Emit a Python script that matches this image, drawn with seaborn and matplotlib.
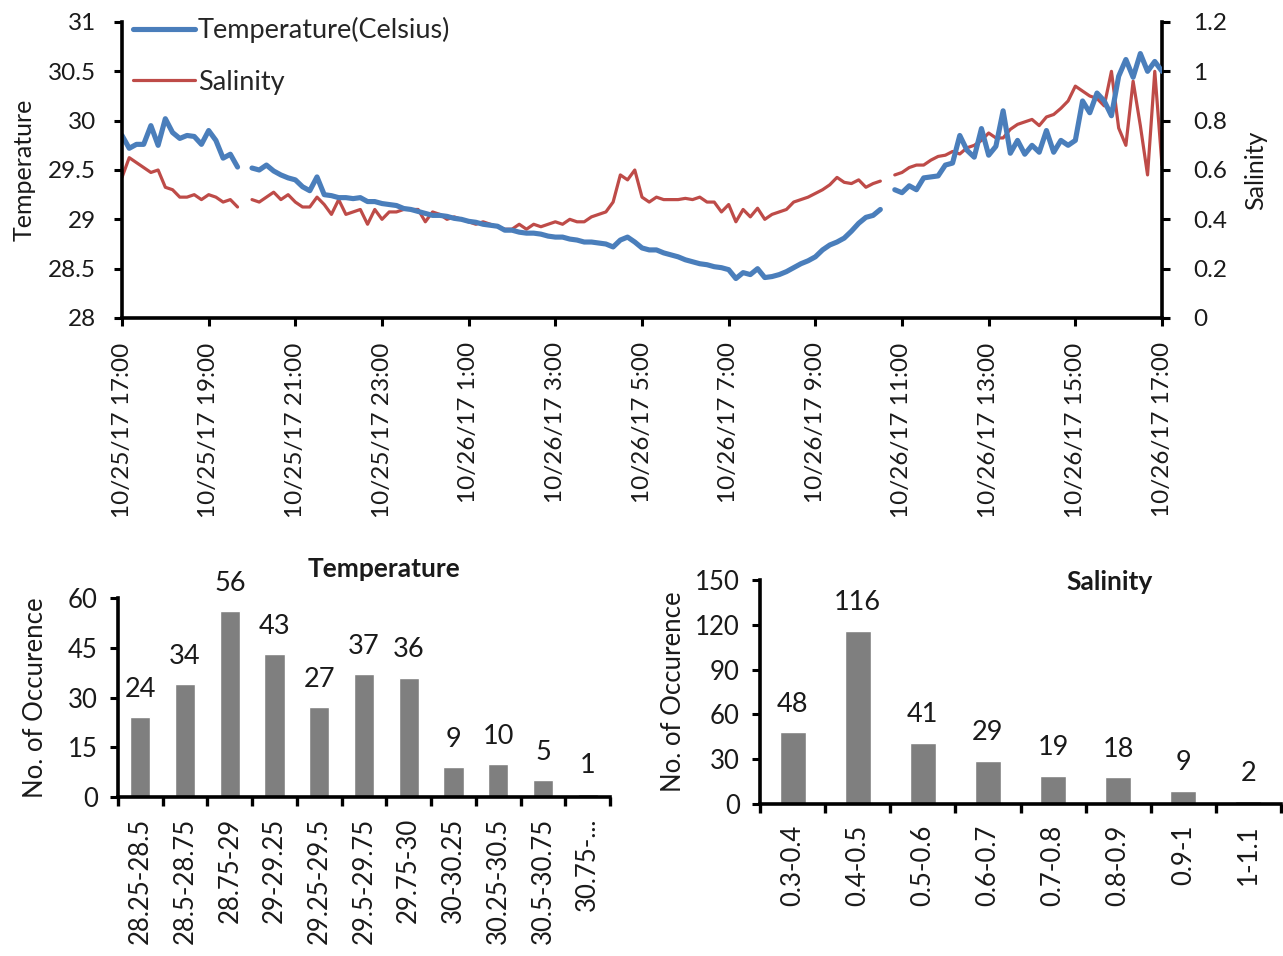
import numpy as np
import pandas as pd
import matplotlib
matplotlib.use("Agg")
import matplotlib.pyplot as plt
from matplotlib.lines import Line2D
import seaborn as sns

sns.set_theme(style="white")
plt.rcParams['font.family'] = ['Lato', 'DejaVu Sans']

nan = np.nan
# ---- time series, 10-minute steps starting 10/25/17 17:00 ----
step_minutes = 10
temp = [
    29.85, 29.72, 29.76, 29.76, 29.95, 29.75, 30.02, 29.88, 29.82, 29.85,
    29.84, 29.76, 29.90, 29.80, 29.62, 29.66, 29.53, nan, 29.52, 29.50,
    29.55, 29.49, 29.45, 29.42, 29.40, 29.33, 29.29, 29.43, 29.25, 29.24,
    29.22, 29.22, 29.21, 29.22, 29.18, 29.18, 29.16, 29.15, 29.14, 29.11,
    29.10, 29.08, 29.06, 29.04, 29.04, 29.03, 29.01, 29.00, 28.98, 28.97,
    28.95, 28.94, 28.93, 28.89, 28.89, 28.87, 28.86, 28.86, 28.85, 28.83,
    28.82, 28.82, 28.80, 28.79, 28.77, 28.77, 28.76, 28.75, 28.72, 28.79,
    28.82, 28.77, 28.71, 28.69, 28.69, 28.66, 28.64, 28.62, 28.59, 28.57,
    28.55, 28.54, 28.52, 28.51, 28.49, 28.40, 28.46, 28.44, 28.50, 28.41,
    28.42, 28.44, 28.47, 28.51, 28.55, 28.58, 28.62, 28.69, 28.74, 28.77,
    28.81, 28.88, 28.96, 29.02, 29.04, 29.10, nan, 29.30, 29.27, 29.34,
    29.30, 29.42, 29.43, 29.44, 29.55, 29.57, 29.85, 29.70, 29.63, 29.92,
    29.65, 29.74, 30.10, 29.67, 29.80, 29.66, 29.75, 29.68, 29.90, 29.68,
    29.80, 29.75, 29.80, 30.20, 30.08, 30.28, 30.20, 30.05, 30.45, 30.62,
    30.44, 30.68, 30.50, 30.60, 30.50,
]
salinity = [
    0.57, 0.65, 0.63, 0.61, 0.59, 0.60, 0.53, 0.52, 0.49, 0.49,
    0.50, 0.48, 0.50, 0.49, 0.47, 0.48, 0.45, nan, 0.48, 0.47,
    0.49, 0.51, 0.48, 0.50, 0.47, 0.45, 0.45, 0.49, 0.46, 0.42,
    0.48, 0.42, 0.43, 0.44, 0.38, 0.44, 0.40, 0.43, 0.43, 0.44,
    0.44, 0.44, 0.39, 0.43, 0.42, 0.40, 0.41, 0.40, 0.39, 0.38,
    0.39, 0.38, 0.37, 0.36, 0.36, 0.38, 0.36, 0.38, 0.37, 0.38,
    0.39, 0.38, 0.40, 0.39, 0.39, 0.41, 0.42, 0.43, 0.47, 0.58,
    0.56, 0.60, 0.49, 0.47, 0.49, 0.48, 0.48, 0.48, 0.485, 0.48,
    0.49, 0.47, 0.47, 0.43, 0.46, 0.39, 0.44, 0.41, 0.445, 0.40,
    0.42, 0.43, 0.44, 0.47, 0.48, 0.49, 0.505, 0.52, 0.54, 0.57,
    0.55, 0.545, 0.56, 0.53, 0.545, 0.555, nan, 0.58, 0.59, 0.61,
    0.62, 0.62, 0.64, 0.655, 0.66, 0.675, 0.665, 0.69, 0.70, 0.72,
    0.75, 0.73, 0.73, 0.765, 0.785, 0.795, 0.805, 0.78, 0.815, 0.825,
    0.85, 0.88, 0.94, 0.92, 0.90, 0.89, 0.86, 1.00, 0.77, 0.70,
    0.96, 0.78, 0.58, 1.00, 0.62,
]
time_tick_labels = [
    "10/25/17 17:00", "10/25/17 19:00", "10/25/17 21:00", "10/25/17 23:00",
    "10/26/17 1:00", "10/26/17 3:00", "10/26/17 5:00", "10/26/17 7:00",
    "10/26/17 9:00", "10/26/17 11:00", "10/26/17 13:00", "10/26/17 15:00",
    "10/26/17 17:00",
]
temp_ticks = [28, 28.5, 29, 29.5, 30, 30.5, 31]
temp_tick_labels = ["28", "28.5", "29", "29.5", "30", "30.5", "31"]
sal_ticks = [0, 0.2, 0.4, 0.6, 0.8, 1.0, 1.2]
sal_tick_labels = ["0", "0.2", "0.4", "0.6", "0.8", "1", "1.2"]

# ---- histograms ----
temp_bins = ["28.25-28.5", "28.5-28.75", "28.75-29", "29-29.25", "29.25-29.5",
             "29.5-29.75", "29.75-30", "30-30.25", "30.25-30.5", "30.5-30.75", "30.75-..."]
temp_counts = [24, 34, 56, 43, 27, 37, 36, 9, 10, 5, 1]
sal_bins = ["0.3-0.4", "0.4-0.5", "0.5-0.6", "0.6-0.7", "0.7-0.8", "0.8-0.9", "0.9-1", "1-1.1"]
sal_counts = [48, 116, 41, 29, 19, 18, 9, 2]

BLUE = "#4A7EBB"
RED = "#BE4B48"
GREY = "#7F7F7F"
TXT = "#1a1a1a"
FS_TICK = 17.5
FS_BOT = 18.5
FS_LAB = 18

n = len(temp)
hours = np.arange(n) * step_minutes / 60.0
df = pd.DataFrame({"hours": hours, "temp": temp, "sal": salinity})
df["seg_t"] = df["temp"].isna().cumsum()
df["seg_s"] = df["sal"].isna().cumsum()

fig = plt.figure(figsize=(12.83, 9.56), dpi=100)

# ---------------- top panel ----------------
ax1 = fig.add_axes([122 / 1283, 1 - 318 / 956, 1040 / 1283, 296 / 956])
ax2 = ax1.twinx()

sns.lineplot(data=df.dropna(subset=["sal"]), x="hours", y="sal", units="seg_s",
             estimator=None, color=RED, lw=2.3, ax=ax2, legend=False)
sns.lineplot(data=df.dropna(subset=["temp"]), x="hours", y="temp", units="seg_t",
             estimator=None, color=BLUE, lw=3.7, ax=ax1, legend=False)
ax1.set_zorder(ax2.get_zorder() + 1)
ax1.patch.set_visible(False)

ax1.set_xlim(0, 24)
ax1.set_ylim(28, 31)
ax2.set_ylim(0, 1.2)
ax1.set_xticks(np.arange(0, 25, 2))
ax1.set_xticklabels(time_tick_labels, rotation=90, fontsize=FS_TICK, color=TXT)
ax1.set_yticks(temp_ticks)
ax1.set_yticklabels(temp_tick_labels, fontsize=FS_TICK, color=TXT)
ax2.set_yticks(sal_ticks)
ax2.set_yticklabels(sal_tick_labels, fontsize=FS_TICK, color=TXT)
ax1.set_xlabel("")
ax1.set_ylabel("Temperature", fontsize=FS_LAB, color=TXT)
ax2.set_ylabel("Salinity", fontsize=FS_LAB, color=TXT)
ax1.yaxis.set_label_coords(-0.083, 0.5)
ax2.yaxis.set_label_coords(1.079, 0.5)

for ax in (ax1, ax2):
    ax.spines["top"].set_visible(False)
    for s in ("left", "right", "bottom"):
        ax.spines[s].set_color("black")
        ax.spines[s].set_linewidth(2.6)
    ax.tick_params(axis="both", which="major", direction="out", length=5.5,
                   width=2.2, color="black", pad=12)
ax1.spines["right"].set_visible(False)
ax2.spines["left"].set_visible(False)
ax2.spines["bottom"].set_visible(False)
ax1.tick_params(axis="y", left=True, right=False, pad=13)
ax1.tick_params(axis="x", bottom=True)
ax2.tick_params(axis="y", right=True, left=False, pad=17)

handles = [Line2D([], [], color=BLUE, lw=3.7), Line2D([], [], color=RED, lw=2.3)]
ax1.legend(handles, ["Temperature(Celsius)", "Salinity"], loc="upper left",
           bbox_to_anchor=(0.0106, 1.016), frameon=False, fontsize=19.5,
           handlelength=2.3, handletextpad=0.1, labelspacing=0.97,
           borderaxespad=0, borderpad=0)

# ---------------- bottom histograms ----------------
def hist_panel(rect, cats, counts, ymax, ystep, title, title_xy, width, ylab_x):
    ax = fig.add_axes(rect)
    hdf = pd.DataFrame({"bin": cats, "count": counts})
    sns.barplot(data=hdf, x="bin", y="count", color=GREY, saturation=1,
                width=width, ax=ax, order=cats)
    ax.set_xlim(-0.5, len(cats) - 0.5)
    ax.set_ylim(0, ymax)
    ax.set_yticks(np.arange(0, ymax + 1, ystep))
    ax.set_yticklabels([str(v) for v in np.arange(0, ymax + 1, ystep)],
                       fontsize=FS_BOT, color=TXT)
    ax.set_xticks(range(len(cats)))
    ax.set_xticklabels(cats, rotation=90, fontsize=FS_BOT, color=TXT)
    ax.tick_params(axis="x", which="major", length=0, pad=15)
    ax.set_xticks(np.arange(-0.5, len(cats), 1.0), minor=True)
    ax.tick_params(axis="x", which="minor", direction="out", length=6.5,
                   width=2.4, color="black", bottom=True)
    ax.tick_params(axis="y", direction="out", length=5.5, width=2.2,
                   color="black", left=True, pad=9)
    for s in ("top", "right"):
        ax.spines[s].set_visible(False)
    for s in ("left", "bottom"):
        ax.spines[s].set_color("black")
        ax.spines[s].set_linewidth(2.6)
    ax.set_xlabel("")
    ax.set_ylabel("No. of Occurence", fontsize=FS_LAB + 0.5, color=TXT)
    ax.yaxis.set_label_coords(ylab_x, 0.5)
    for i, v in enumerate(counts):
        ax.annotate(str(v), (i, v), xytext=(0, 11), textcoords="offset points",
                    ha="center", va="bottom", fontsize=FS_BOT + 1, color=TXT)
    ax.text(title_xy[0], title_xy[1], title, transform=ax.transAxes,
            ha="center", va="center", fontsize=19, fontweight="bold",
            color=TXT)
    return ax

hist_panel([118 / 1283, 1 - 797 / 956, 492 / 1283, 199 / 956],
           temp_bins, temp_counts, 60, 15, "Temperature", (0.54, 1.145), 0.45, -0.142)
hist_panel([760 / 1283, 1 - 804 / 956, 521 / 1283, 224 / 956],
           sal_bins, sal_counts, 150, 30, "Salinity", (0.67, 0.99), 0.4, -0.142)

fig.savefig("out.png", dpi=100)
